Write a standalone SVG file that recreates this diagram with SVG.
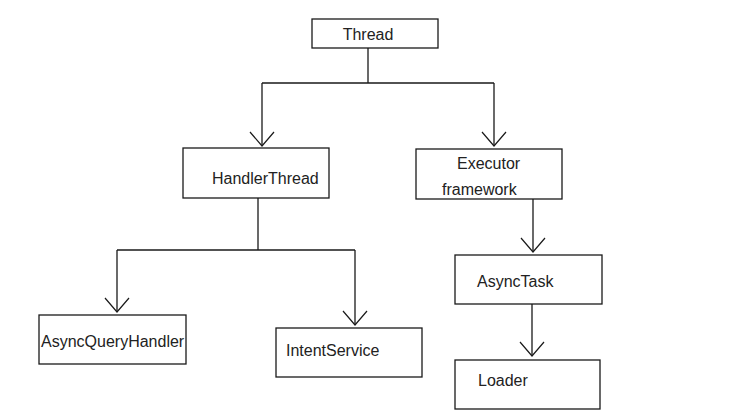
<svg xmlns="http://www.w3.org/2000/svg" width="739" height="417" viewBox="0 0 739 417">
<defs>
<marker id="arr" markerUnits="userSpaceOnUse" markerWidth="30" markerHeight="30" refX="0" refY="0" viewBox="-16 -15 18 30" orient="auto" overflow="visible">
<path d="M-14,-12 L0,0 L-14,12" fill="none" stroke="#1a1a1a" stroke-width="1.2"/>
</marker>
<style>
.box{fill:#fff;stroke:#1a1a1a;stroke-width:1.3}
.lbl{font-family:"Liberation Sans",Arial,sans-serif;font-size:16px;fill:#222}
.ln{fill:none;stroke:#1a1a1a;stroke-width:1.3}
</style>
</defs>
<rect width="739" height="417" fill="#fff"/>
<g id="connectors">
<path class="ln" d="M368,48 V83 M262,83 H494"/>
<path class="ln" d="M262,83 V146" marker-end="url(#arr)"/>
<path class="ln" d="M494,83 V146" marker-end="url(#arr)"/>
<path class="ln" d="M258,198 V250 M117,250 H355"/>
<path class="ln" d="M117,250 V312" marker-end="url(#arr)"/>
<path class="ln" d="M355,250 V325" marker-end="url(#arr)"/>
<path class="ln" d="M533,199 V252" marker-end="url(#arr)"/>
<path class="ln" d="M532,304 V356" marker-end="url(#arr)"/>
</g>
<g id="thread"><rect class="box" x="312" y="19" width="126" height="29"/><text class="lbl" x="368" y="40" text-anchor="middle">Thread</text></g>
<g id="handlerthread"><rect class="box" x="183" y="148" width="146" height="50"/><text class="lbl" x="212" y="184">HandlerThread</text></g>
<g id="executor"><rect class="box" x="416" y="149" width="146" height="50"/><text class="lbl" x="457" y="169">Executor</text><text class="lbl" x="442" y="195">framework</text></g>
<g id="asyncqueryhandler"><rect class="box" x="39" y="315" width="147" height="49"/><text class="lbl" x="41" y="347">AsyncQueryHandler</text></g>
<g id="intentservice"><rect class="box" x="276" y="328" width="146" height="49"/><text class="lbl" x="286" y="356">IntentService</text></g>
<g id="asynctask"><rect class="box" x="455" y="255" width="147" height="49"/><text class="lbl" x="477" y="287">AsyncTask</text></g>
<g id="loader"><rect class="box" x="455" y="360" width="145" height="49"/><text class="lbl" x="478" y="386">Loader</text></g>
</svg>
